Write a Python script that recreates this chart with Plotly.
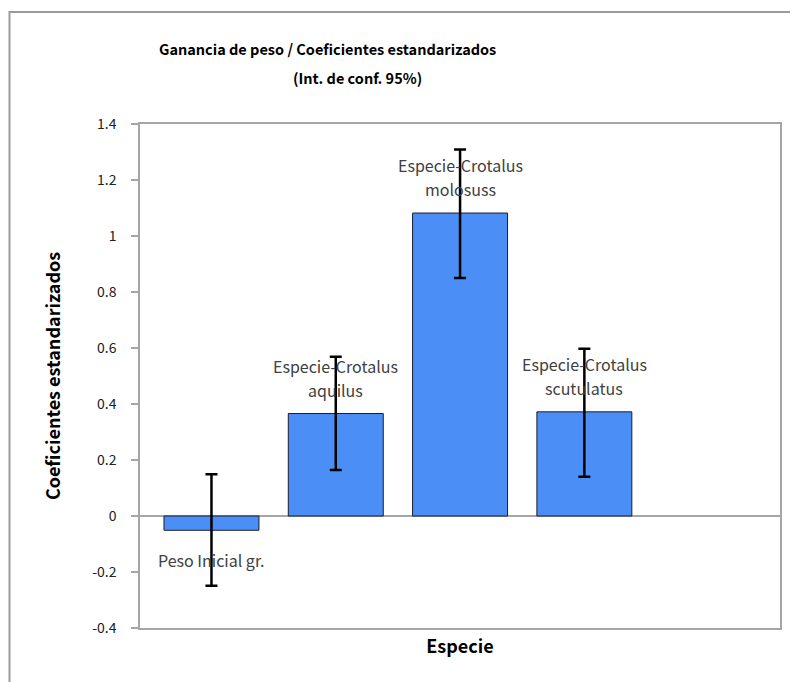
import plotly.graph_objects as go

# ---- data ----
categories = ["Peso Inicial gr.", "Especie-Crotalus aquilus",
              "Especie-Crotalus molosuss", "Especie-Crotalus scutulatus"]
label_line1 = ["Peso Inicial gr.", "Especie-Crotalus", "Especie-Crotalus", "Especie-Crotalus"]
label_line2 = ["", "aquilus", "molosuss", "scutulatus"]
coef_values = [-0.051, 0.366, 1.082, 0.372]
ci_lower = [-0.249, 0.164, 0.850, 0.140]
ci_upper = [0.149, 0.569, 1.309, 0.597]
y_tick_vals = [-0.4, -0.2, 0, 0.2, 0.4, 0.6, 0.8, 1, 1.2, 1.4]
y_tick_labels = ["-0.4", "-0.2", "0", "0.2", "0.4", "0.6", "0.8", "1", "1.2", "1.4"]

err_plus = [u - v for u, v in zip(ci_upper, coef_values)]
err_minus = [v - l for v, l in zip(coef_values, ci_lower)]

# page body adds an 8px offset; figure coords = screen coords - 8
OFF = 8
W, H = 798 - OFF, 682 - OFF
L, T = 140 - OFF, 124 - OFF
R = W - (780 - OFF)
B = H - (628 - OFF)
FONT = "Noto Sans CJK SC"

fig = go.Figure()
fig.add_trace(go.Bar(
    x=categories, y=coef_values, width=0.764,
    marker=dict(color="#4A8EF6", line=dict(color="#1c1c2c", width=1)),
    error_y=dict(type="data", symmetric=False, array=err_plus, arrayminus=err_minus,
                 color="#000000", thickness=2.5, width=6),
    showlegend=False, hoverinfo="skip",
))

label_font = dict(family=FONT, size=16, color="#404040")
annotations = []
for cat, t1, t2, v in zip(categories, label_line1, label_line2, coef_values):
    if v >= 0:
        annotations.append(dict(x=cat, y=v, xref="x", yref="y", text=t1, showarrow=False,
                                yanchor="bottom", yshift=34, font=label_font))
        annotations.append(dict(x=cat, y=v, xref="x", yref="y", text=t2, showarrow=False,
                                yanchor="bottom", yshift=10, font=label_font))
    else:
        annotations.append(dict(x=cat, y=v, xref="x", yref="y", text=t1, showarrow=False,
                                yanchor="top", yshift=-16, font=label_font))

pw, ph = W - L - R, H - T - B
def px_x(p):
    return (p - OFF - L) / pw
def px_y(p):
    return (H - B - (p - OFF)) / ph

annotations.append(dict(x=px_x(327), y=px_y(48), xref="paper", yref="paper",
                        text="<b>Ganancia de peso / Coeficientes estandarizados</b>",
                        showarrow=False, xanchor="center", yanchor="middle",
                        font=dict(family=FONT, size=14.5, color="#000000")))
annotations.append(dict(x=px_x(357), y=px_y(77), xref="paper", yref="paper",
                        text="<b>(Int. de conf. 95%)</b>",
                        showarrow=False, xanchor="center", yanchor="middle",
                        font=dict(family=FONT, size=14.5, color="#000000")))

fig.update_layout(
    width=W, height=H,
    margin=dict(l=L, r=R, t=T, b=B),
    paper_bgcolor="white", plot_bgcolor="white",
    font=dict(family=FONT, color="#000000"),
    annotations=annotations,
    shapes=[dict(type="rect", xref="paper", yref="paper",
                 x0=px_x(9.5), x1=px_x(830), y0=px_y(720), y1=px_y(12),
                 line=dict(color="#9a9a9a", width=2), layer="below")],
    xaxis=dict(range=[-0.575, 4.574], showticklabels=False, ticks="",
               showline=True, linecolor="#a6a6a6", linewidth=1.5, mirror=True,
               showgrid=False, zeroline=False,
               title=dict(text="<b>Especie</b>", font=dict(family=FONT, size=18), standoff=12)),
    yaxis=dict(range=[-0.4, 1.4], tickvals=y_tick_vals, ticktext=y_tick_labels,
               ticks="outside", ticklen=7, tickcolor="#a6a6a6", tickwidth=1.5,
               ticklabelstandoff=12,
               tickfont=dict(family=FONT, size=14, color="#222222"),
               showline=True, linecolor="#a6a6a6", linewidth=1.5, mirror=True,
               showgrid=False, zeroline=True, zerolinecolor="#a6a6a6", zerolinewidth=1.5,
               title=dict(text="<b>Coeficientes estandarizados</b>",
                          font=dict(family=FONT, size=18), standoff=27)),
)

fig.write_html("out.html")
